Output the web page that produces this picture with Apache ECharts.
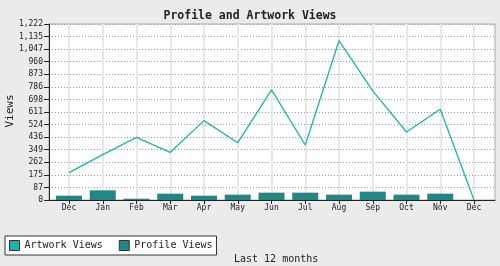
<!DOCTYPE html>
<html>
<head>
<meta charset="utf-8">
<script src="https://cdn.jsdelivr.net/npm/echarts@6/dist/echarts.min.js"></script>
<style>
html,body{margin:0;padding:0;background:#ebebeb;}
#c{width:500px;height:266px;}
</style>
</head>
<body>
<div id="c"></div>
<script>
var months = ['Dec','Jan','Feb','Mar','Apr','May','Jun','Jul','Aug','Sep','Oct','Nov','Dec'];
var artworkViews = [190, 315, 435, 331, 551, 398, 764, 382, 1106, 758, 472, 630, 0];
var profileViews = [30, 67, 9, 44, 30, 37, 51, 51, 37, 58, 37, 44, 0];
var yMax = 1222;
var ySteps = 14;
var yAxisTitle = 'Views';

var FONT = '"DejaVu Sans Mono", "Liberation Mono", monospace';
var chart = echarts.init(document.getElementById('c'), null, {renderer: 'canvas'});
chart.setOption({
  backgroundColor: '#ebebeb',
  animation: false,
  title: [
    {text: 'Profile and Artwork Views', left: 'center', top: 5,
     textStyle: {fontFamily: FONT, fontSize: 11.5, fontWeight: 'bold', color: '#222'}},
    {text: 'Last 12 months', left: 229, top: 249,
     textStyle: {fontFamily: FONT, fontSize: 10, fontWeight: 'normal', color: '#222'}}
  ],
  graphic: [
    {type: 'text', x: 10, y: 111, rotation: Math.PI / 2,
     style: {text: yAxisTitle, fontFamily: FONT, fontSize: 11, fill: '#222', align: 'center', verticalAlign: 'middle'}}
  ],
  legend: {
    left: 5, top: 236,
    backgroundColor: '#fff', borderColor: '#333', borderWidth: 1,
    padding: [4, 4, 4, 4],
    itemWidth: 10, itemHeight: 10, itemGap: 16,
    icon: 'rect',
    textStyle: {fontFamily: FONT, fontSize: 10, color: '#222'},
    data: [
      {name: 'Artwork Views', itemStyle: {color: '#20b2aa', borderColor: '#333', borderWidth: 1}},
      {name: 'Profile Views', itemStyle: {color: '#1e8885', borderColor: '#333', borderWidth: 1}}
    ]
  },
  grid: [
    {left: 49, right: 5, top: 24, bottom: 66, show: true, backgroundColor: '#fff', borderColor: '#aaa', borderWidth: 1,
     outerBoundsMode: 'none', containLabel: false},
    {left: 69, right: 26, top: 24, bottom: 66, outerBoundsMode: 'none', containLabel: false}
  ],
  xAxis: [
    {gridIndex: 0, type: 'value', min: 0, max: 1,
     axisLine: {show: true, onZero: false, lineStyle: {color: '#222', width: 1}},
     axisTick: {show: false}, axisLabel: {show: false}, splitLine: {show: false}},
    {gridIndex: 1, type: 'category', boundaryGap: false, data: months,
     axisLine: {show: false},
     axisTick: {show: true, length: 4, lineStyle: {color: '#222'}},
     axisLabel: {fontFamily: FONT, fontSize: 8, color: '#222', margin: 4, interval: 0},
     splitLine: {show: true, lineStyle: {color: '#e8e8e8', width: 2}}}
  ],
  yAxis: [
    {gridIndex: 0, type: 'value', min: 0, max: yMax, interval: yMax / ySteps,
     axisLine: {show: true, lineStyle: {color: '#222', width: 1}},
     axisTick: {show: true, length: 5, lineStyle: {color: '#222'}},
     axisLabel: {fontFamily: FONT, fontSize: 8, color: '#222', margin: 6,
       formatter: function (v) { return Math.round(v).toLocaleString('en-US'); }},
     splitLine: {show: true, lineStyle: {color: '#999', type: [1, 2], width: 1}}},
    {gridIndex: 1, type: 'value', min: 0, max: yMax, show: false, splitLine: {show: false}}
  ],
  series: [
    {name: 'Profile Views', type: 'bar', xAxisIndex: 1, yAxisIndex: 1, data: profileViews,
     barWidth: 26,
     itemStyle: {color: '#1e8885'}},
    {name: 'Artwork Views', type: 'line', xAxisIndex: 1, yAxisIndex: 1, data: artworkViews,
     showSymbol: false, symbol: 'none',
     lineStyle: {color: '#20b2aa', width: 1.3}, itemStyle: {color: '#20b2aa'}}
  ]
});
</script>
</body>
</html>
